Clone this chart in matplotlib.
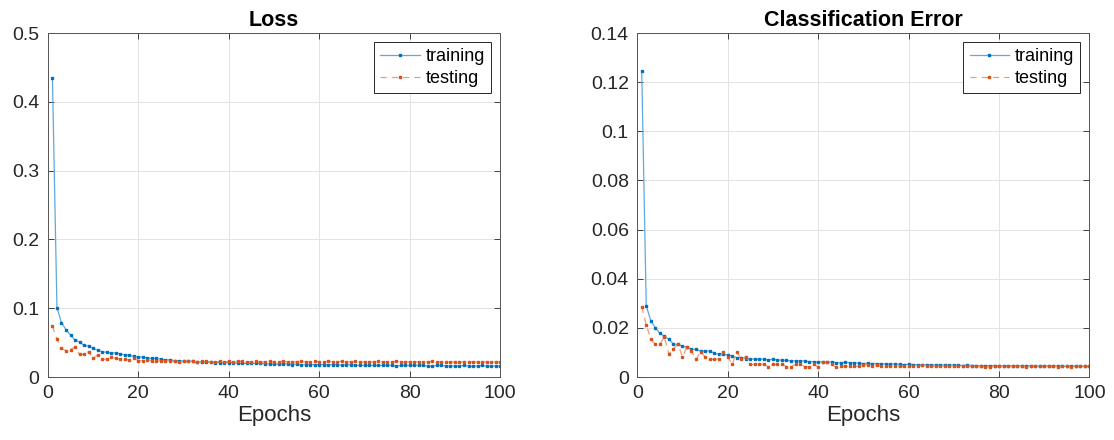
import numpy as np
import matplotlib
matplotlib.use('Agg')
import matplotlib.pyplot as plt

plt.rcParams['font.family'] = ['Liberation Sans', 'DejaVu Sans']

epochs = np.arange(1, 101)

loss_train = [
    0.435, 0.101, 0.079, 0.069, 0.061, 0.054, 0.051, 0.046, 0.045, 0.042,
    0.039, 0.037, 0.036, 0.035, 0.035, 0.034, 0.032, 0.032, 0.030, 0.029,
    0.029, 0.028, 0.027, 0.027, 0.026, 0.025, 0.025, 0.024, 0.024, 0.023,
    0.023, 0.023, 0.022, 0.022, 0.022, 0.022, 0.021, 0.021, 0.021, 0.021,
    0.021, 0.020, 0.020, 0.020, 0.020, 0.020, 0.020, 0.019, 0.019, 0.019,
    0.019, 0.019, 0.019, 0.018, 0.019, 0.018, 0.018, 0.018, 0.018, 0.018,
    0.018, 0.018, 0.018, 0.018, 0.017, 0.018, 0.018, 0.017, 0.017, 0.017,
    0.017, 0.017, 0.017, 0.017, 0.017, 0.017, 0.016, 0.017, 0.017, 0.017,
    0.017, 0.017, 0.017, 0.016, 0.016, 0.017, 0.017, 0.016, 0.016, 0.016,
    0.016, 0.017, 0.016, 0.016, 0.016, 0.017, 0.016, 0.016, 0.016, 0.016,
]
loss_test = [
    0.074, 0.055, 0.042, 0.038, 0.040, 0.044, 0.033, 0.033, 0.037, 0.027,
    0.032, 0.026, 0.026, 0.029, 0.027, 0.026, 0.026, 0.025, 0.027, 0.024,
    0.024, 0.025, 0.024, 0.024, 0.023, 0.024, 0.023, 0.023, 0.022, 0.023,
    0.023, 0.023, 0.022, 0.023, 0.023, 0.022, 0.022, 0.023, 0.022, 0.023,
    0.022, 0.023, 0.023, 0.022, 0.022, 0.023, 0.022, 0.022, 0.023, 0.022,
    0.022, 0.023, 0.022, 0.022, 0.022, 0.023, 0.022, 0.022, 0.023, 0.022,
    0.022, 0.023, 0.022, 0.022, 0.023, 0.022, 0.022, 0.023, 0.022, 0.022,
    0.022, 0.022, 0.023, 0.022, 0.022, 0.022, 0.023, 0.022, 0.022, 0.022,
    0.022, 0.022, 0.022, 0.022, 0.023, 0.022, 0.022, 0.022, 0.022, 0.022,
    0.022, 0.022, 0.022, 0.022, 0.022, 0.022, 0.022, 0.022, 0.022, 0.022,
]
err_train = [
    0.1245, 0.0290, 0.0229, 0.0201, 0.0179, 0.0166, 0.0154, 0.0134, 0.0133, 0.0126,
    0.0122, 0.0113, 0.0113, 0.0106, 0.0106, 0.0106, 0.0098, 0.0092, 0.0092, 0.0090,
    0.0086, 0.0079, 0.0079, 0.0075, 0.0073, 0.0073, 0.0073, 0.0073, 0.0070, 0.0073,
    0.0070, 0.0068, 0.0068, 0.0066, 0.0066, 0.0065, 0.0066, 0.0063, 0.0063, 0.0062,
    0.0062, 0.0060, 0.0062, 0.0059, 0.0058, 0.0060, 0.0059, 0.0058, 0.0057, 0.0055,
    0.0056, 0.0055, 0.0055, 0.0054, 0.0053, 0.0053, 0.0054, 0.0052, 0.0051, 0.0052,
    0.0051, 0.0050, 0.0050, 0.0050, 0.0049, 0.0050, 0.0048, 0.0049, 0.0048, 0.0048,
    0.0048, 0.0047, 0.0048, 0.0047, 0.0047, 0.0046, 0.0047, 0.0046, 0.0047, 0.0046,
    0.0046, 0.0046, 0.0045, 0.0046, 0.0045, 0.0045, 0.0046, 0.0045, 0.0044, 0.0045,
    0.0045, 0.0044, 0.0045, 0.0044, 0.0044, 0.0045, 0.0044, 0.0044, 0.0044, 0.0044,
]
err_test = [
    0.0286, 0.0213, 0.0155, 0.0134, 0.0134, 0.0164, 0.0094, 0.0114, 0.0134, 0.0083,
    0.0121, 0.0106, 0.0072, 0.0103, 0.0083, 0.0072, 0.0072, 0.0072, 0.0103, 0.0083,
    0.0052, 0.0103, 0.0072, 0.0083, 0.0052, 0.0052, 0.0052, 0.0052, 0.0042, 0.0052,
    0.0052, 0.0055, 0.0042, 0.0042, 0.0052, 0.0055, 0.0042, 0.0042, 0.0052, 0.0042,
    0.0062, 0.0062, 0.0052, 0.0040, 0.0044, 0.0044, 0.0044, 0.0044, 0.0044, 0.0050,
    0.0050, 0.0044, 0.0048, 0.0044, 0.0044, 0.0044, 0.0046, 0.0044, 0.0044, 0.0044,
    0.0044, 0.0044, 0.0050, 0.0046, 0.0044, 0.0044, 0.0044, 0.0046, 0.0044, 0.0044,
    0.0044, 0.0046, 0.0044, 0.0044, 0.0044, 0.0044, 0.0042, 0.0040, 0.0044, 0.0044,
    0.0044, 0.0044, 0.0044, 0.0044, 0.0046, 0.0042, 0.0044, 0.0044, 0.0044, 0.0044,
    0.0044, 0.0044, 0.0042, 0.0044, 0.0044, 0.0042, 0.0044, 0.0044, 0.0044, 0.0044,
]

titles = ['Loss', 'Classification Error']
loss_yticks = [0, 0.1, 0.2, 0.3, 0.4, 0.5]
loss_ylabels = ['0', '0.1', '0.2', '0.3', '0.4', '0.5']
err_yticks = [0, 0.02, 0.04, 0.06, 0.08, 0.10, 0.12, 0.14]
err_ylabels = ['0', '0.02', '0.04', '0.06', '0.08', '0.1', '0.12', '0.14']
xticks = [0, 20, 40, 60, 80, 100]

# matlab default colours; lines drawn lighter than the dots
blue = '#0072BD'
blue_line = '#5fa9dd'
orange = '#D95319'
orange_line = '#ec9d7c'
axcol = '#262626'

fig = plt.figure(figsize=(11.14, 4.4), dpi=100)
ax1 = fig.add_axes([0.043, 0.143, 0.406, 0.782])
ax2 = fig.add_axes([0.572, 0.143, 0.406, 0.782])

panels = [
    (ax1, loss_train, loss_test, loss_yticks, loss_ylabels, titles[0]),
    (ax2, err_train, err_test, err_yticks, err_ylabels, titles[1]),
]

for ax, tr, te, yt, yl, title in panels:
    ax.plot(epochs, tr, '-', color=blue_line, lw=0.9, marker='s', ms=1.6,
            mec=blue, mfc=blue, label='training')
    ax.plot(epochs, te, '--', color=orange_line, lw=0.9, marker='s', ms=1.6,
            mec=orange, mfc=orange, label='testing', dashes=(5, 4))
    ax.set_xlim(0, 100)
    ax.set_ylim(yt[0], yt[-1])
    ax.set_xticks(xticks)
    ax.set_xticklabels([str(v) for v in xticks])
    ax.set_yticks(yt)
    ax.set_yticklabels(yl)
    ax.tick_params(direction='in', length=4, width=0.6, colors=axcol,
                   labelsize=14, top=True, right=True, labeltop=False,
                   labelright=False, pad=6)
    ax.grid(True, color='#e3e3e3', lw=0.7)
    ax.set_axisbelow(True)
    for s in ax.spines.values():
        s.set_color('#555555')
        s.set_linewidth(0.7)
    ax.set_title(title, fontsize=15.5, fontweight='bold', pad=5)
    ax.set_xlabel('Epochs', fontsize=16, color=axcol, labelpad=2)
    leg = ax.legend(loc='upper right', fontsize=13, fancybox=False,
                    framealpha=1, edgecolor='#262626', handlelength=2.2,
                    handletextpad=0.3, borderpad=0.35, labelspacing=0.25,
                    borderaxespad=0.5)
    leg.get_frame().set_linewidth(0.7)

fig.savefig('out.png', dpi=100)
